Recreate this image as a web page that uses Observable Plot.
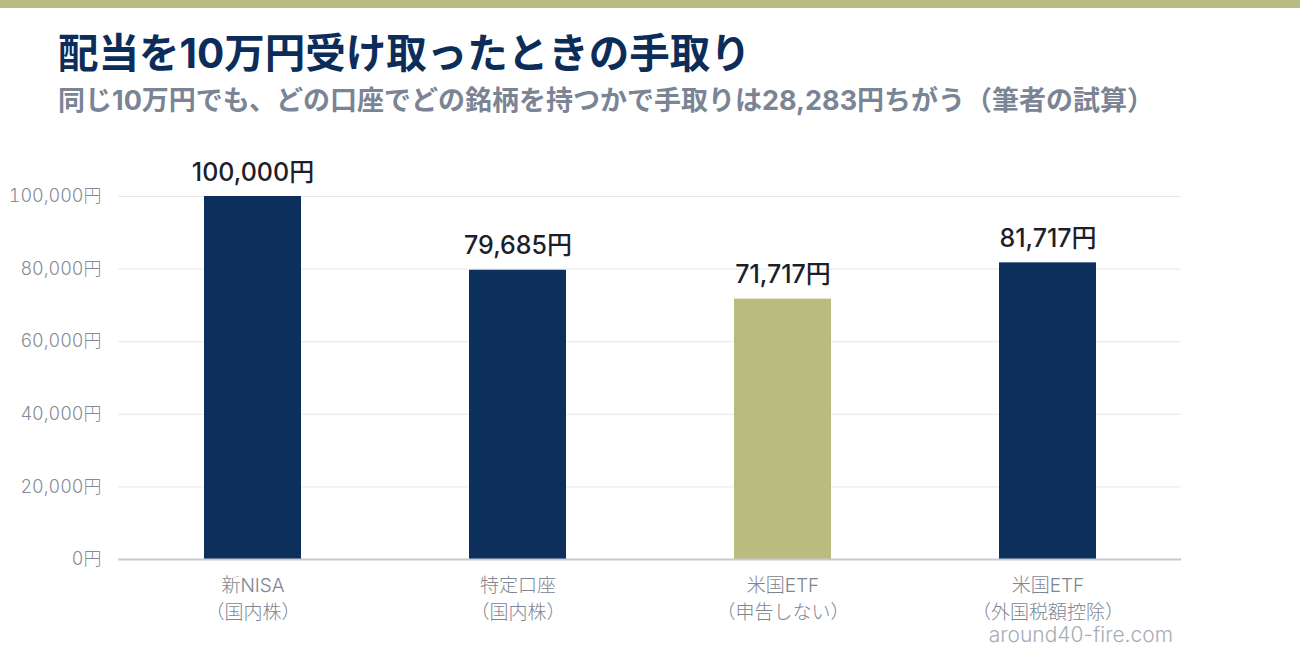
<!DOCTYPE html>
<html><head><meta charset="utf-8">
<script src="https://cdn.jsdelivr.net/npm/d3@7"></script>
<script src="https://cdn.jsdelivr.net/npm/@observablehq/plot@0.6"></script>
<style>
body{margin:0;background:#fff;font-family:Inter,"Noto Sans CJK JP",sans-serif;}
#wrap{position:relative;width:1300px;height:660px;overflow:hidden;}
#band{position:absolute;left:0;top:0;width:1300px;height:8px;background:#b8bc80;}
#title{position:absolute;left:58px;top:34px;font-size:40.5px;font-weight:700;color:#0c2d5a;line-height:1;white-space:nowrap;}
#sub{position:absolute;left:58px;top:87px;font-size:27px;font-weight:700;color:#7a8494;line-height:1;white-space:nowrap;}
#chart{position:absolute;left:0;top:140px;}
#credit{position:absolute;right:127px;top:624px;font-size:21px;font-weight:300;color:#a7adb6;line-height:1;}
</style></head>
<body><div id="wrap">
<div id="band"></div>
<div id="title">配当を10万円受け取ったときの手取り</div>
<div id="sub">同じ10万円でも、どの口座でどの銘柄を持つかで手取りは28,283円ちがう（筆者の試算）</div>
<div id="chart"></div>
<div id="credit">around40-fire.com</div>
</div>
<script>
const categories = ["新NISA\n（国内株）", "特定口座\n（国内株）", "米国ETF\n（申告しない）", "米国ETF\n（外国税額控除）"];
const values = [100000, 79685, 71717, 81717];
const highlight = [false, false, true, false];
const yTicks = [0, 20000, 40000, 60000, 80000, 100000];

const data = categories.map((c, i) => ({category: c, value: values[i], hl: highlight[i]}));
const yen = d => d3.format(",")(d) + "円";

const chart = Plot.plot({
  width: 1300,
  height: 520,
  marginTop: 56,
  marginBottom: 101,
  marginLeft: 118,
  marginRight: 119,
  style: {fontFamily: 'Inter,"Noto Sans CJK JP",sans-serif', background: "transparent"},
  x: {domain: categories, paddingInner: 0.635, paddingOuter: 0.3175, label: null},
  y: {domain: [0, 100000], label: null},
  marks: [
    Plot.gridY(yTicks, {stroke: "#e6e8eb", strokeOpacity: 1, strokeWidth: 1}),
    Plot.barY(data, {x: "category", y: "value", fill: d => d.hl ? "#b8bc7e" : "#0c2f5c"}),
    Plot.ruleY([0], {stroke: "#c6cbd1", strokeWidth: 2}),
    Plot.text(data, {x: "category", y: "value", text: d => yen(d.value), dy: -16, lineAnchor: "bottom", fontSize: 25, fontWeight: 500, fill: "#1c1f2b"}),
    Plot.axisY(yTicks, {tickFormat: yen, tickSize: 0, tickPadding: 17, fontSize: 18, fontWeight: 300, fill: "#848c98", label: null}),
    Plot.axisX({tickSize: 0, tickPadding: 14, fontSize: 19, fontWeight: 300, fill: "#7d8592", lineHeight: 1.4, label: null})
  ]
});
document.getElementById("chart").append(chart);
</script>
</body></html>
